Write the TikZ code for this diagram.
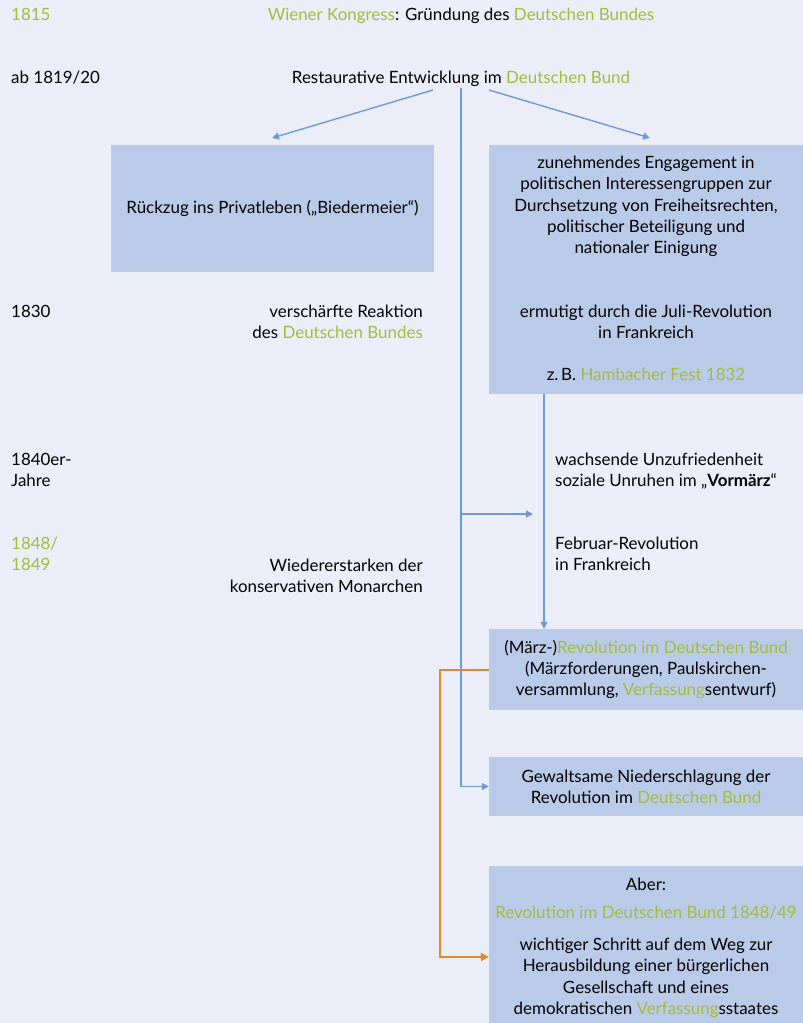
\documentclass[tikz,border=0pt]{standalone}
\usepackage{fontspec}
\setmainfont{Lato}
\usetikzlibrary{arrows.meta}
\definecolor{bg}{HTML}{EBEEF9}
\definecolor{boxc}{HTML}{BACAE9}
\definecolor{grn}{HTML}{A2BC3D}
\definecolor{blu}{HTML}{6D9AD8}
\definecolor{org}{HTML}{DB8A2E}
\newcommand{\gr}[1]{\textcolor{grn}{#1}}
\tikzset{
  txt/.style={inner sep=0pt, font=\fontsize{17}{21.3}\selectfont, text=black},
  box/.style={fill=boxc, draw=none, inner sep=0pt, minimum width=#1},
  arr/.style={draw=blu, line width=1.4bp, -{Triangle[length=7bp,width=7bp]}},
  ln/.style={draw=blu, line width=1.4bp},
  oarr/.style={draw=org, line width=2bp, -{Triangle[length=8bp,width=8bp]}},
}
\begin{document}
\begin{tikzpicture}[x=1bp,y=-1bp]
\fill[bg] (0,0) rectangle (803,1023);
\useasboundingbox (0,0) rectangle (803,1023);
% boxes
\node[box=323bp, minimum height=127bp] (b1) at (272.5,208.5) {};
\node[txt] (b1t) at (b1.center) {Rückzug ins Privatleben („Biedermeier“)};
\node[box=314bp, minimum height=249bp] (b2) at (646,269.5) {};
\node[box=314bp, minimum height=81bp, txt, align=center] (b3) at (646,669.5)
  {(März-)\gr{Revolution im Deutschen Bund}\\(Märzforderungen, Paulskirchen-\\versammlung, \gr{Verfassung}sentwurf)};
\node[box=314bp, minimum height=59bp, txt, align=center] (b4) at (646,786.5)
  {Gewaltsame Niederschlagung der\\Revolution im \gr{Deutschen Bund}};
\node[box=314bp, minimum height=157bp] (b5) at (646,944.5) {};
% left column
\node[txt, anchor=north west] (y1815) at (11,8) {\gr{1815}};
\node[txt, anchor=north west] (y1819) at (11,71) {ab 1819/20};
\node[txt, anchor=north west] (y1830) at (11,305) {1830};
\node[txt, anchor=north west, align=left] (y1840) at (11,453) {1840er-\\Jahre};
\node[txt, anchor=north west, align=left] (y1848) at (11,537) {\gr{1848/}\\\gr{1849}};
% texts
\node[txt, anchor=north] (wk) at (461,8) {\gr{Wiener Kongress}: Gründung des \gr{Deutschen Bundes}};
\node[txt, anchor=north] (rest) at (461,71) {Restaurative Entwicklung im \gr{Deutschen Bund}};
\node[txt, anchor=north, align=center] (eng) at (646,156)
  {zunehmendes Engagement in\\politischen Interessengruppen zur\\Durchsetzung von Freiheitsrechten,\\politischer Beteiligung und\\nationaler Einigung};
\node[txt, anchor=north, align=center] (jul) at (646,305) {ermutigt durch die Juli-Revolution\\in Frankreich};
\node[txt, anchor=north] (ham) at (646,368) {z.\,B. \gr{Hambacher Fest 1832}};
\node[txt, anchor=north east, align=right] (ver) at (423,305) {verschärfte Reaktion\\des \gr{Deutschen Bundes}};
\node[txt, anchor=north west, align=left] (wach) at (555,453) {wachsende Unzufriedenheit\\soziale Unruhen im „\textbf{Vormärz}“};
\node[txt, anchor=north west, align=left] (feb) at (555,537) {Februar-Revolution\\in Frankreich};
\node[txt, anchor=north east, align=right] (wied) at (423,559) {Wiedererstarken der\\konservativen Monarchen};
\node[txt, anchor=north] (aber) at (646,878) {Aber:};
\node[txt, anchor=north] (rev49) at (646,906) {\gr{Revolution im Deutschen Bund 1848/49}};
\node[txt, anchor=north, align=center] (schr) at (646,938)
  {wichtiger Schritt auf dem Weg zur\\Herausbildung einer bürgerlichen\\Gesellschaft und eines\\demokratischen \gr{Verfassung}sstaates};
% connectors
\coordinate (vx) at (461,0);
\coordinate (ax) at (544,0);
\coordinate (hy) at (0,514);
\coordinate (ox) at (440,0);
\coordinate (oy) at (0,957);
\draw[arr] (433,90) -- (272,138);
\draw[arr] (489,90) -- (650,138);
\draw[ln] (rest.south -| vx) ++(0,1) -- (b4.west -| vx);
\draw[arr] (b4.west -| vx) -- (b4.west);
\draw[arr] (hy -| vx) -- (533,514);
\draw[arr] (b2.south -| ax) -- (b3.north -| ax);
\draw[oarr] (b3.west) -- (b3.west -| ox) -- (ox |- oy) -- (oy -| b5.west);
\end{tikzpicture}
\end{document}
